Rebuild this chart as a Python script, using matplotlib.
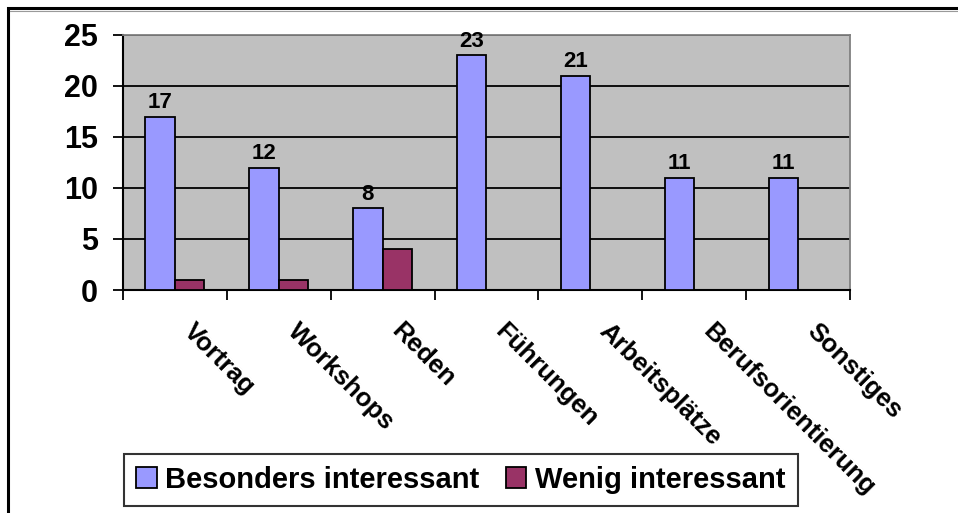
import matplotlib
matplotlib.use("Agg")
import matplotlib.pyplot as plt
from matplotlib.lines import Line2D
from matplotlib.patches import Patch
import numpy as np

# Survey: which parts of the event were interesting
categories = ["Vortrag", "Workshops", "Reden", "Führungen",
              "Arbeitsplätze", "Berufsorientierung", "Sonstiges"]
besonders = [17, 12, 8, 23, 21, 11, 11]
wenig = [1, 1, 4, 0, 0, 0, 0]
series_names = ["Besonders interessant", "Wenig interessant"]
y_ticks = [0, 5, 10, 15, 20, 25]

W, H, DPI = 958, 513, 100
plt.rcParams["font.family"] = ["Liberation Sans", "DejaVu Sans"]
plt.rcParams["font.weight"] = "bold"

fig = plt.figure(figsize=(W / DPI, H / DPI), dpi=DPI)
fig.patch.set_facecolor("white")

# outer chart frame (left and top edges)
fig.add_artist(Line2D([8 / W, 8 / W, 1.01], [-0.05, 1 - 8 / H, 1 - 8 / H],
                      transform=fig.transFigure, color="black", lw=2.2,
                      solid_joinstyle="miter"))
fig.add_artist(Line2D([10 / W, 1.01], [1 - 10.5 / H, 1 - 10.5 / H],
                      transform=fig.transFigure, color="#9a9a9a", lw=0.8))

left, right, top, bottom = 123, 850, 35, 290
ax = fig.add_axes([left / W, 1 - bottom / H, (right - left) / W, (bottom - top) / H])
ax.set_facecolor("#C0C0C0")

x = np.arange(len(categories))
bw = 0.284
blue, maroon = "#9999FF", "#993366"
ax.bar(x - bw / 2, besonders, bw, color=blue, edgecolor="black", lw=1.3, zorder=3)
ax.bar(x + bw / 2, wenig, bw, color=maroon, edgecolor="black", lw=1.3, zorder=3)

for xi, v in zip(x, besonders):
    ax.annotate(str(v), (xi - bw / 2, v), xytext=(0, 2.5), textcoords="offset points",
                ha="center", va="bottom", fontsize=16, fontweight="bold", zorder=4)

ax.set_xlim(-0.5, len(categories) - 0.5)
ax.set_ylim(0, 25)
ax.set_yticks(y_ticks)
ax.set_yticklabels([str(t) for t in y_ticks], fontsize=22, fontweight="bold")
ax.yaxis.grid(True, color="black", lw=1.3, zorder=1)
ax.set_axisbelow(True)

ax.set_xticks(np.arange(len(categories) + 1) - 0.5)
ax.set_xticklabels([])
ax.tick_params(axis="x", direction="out", length=7, width=1.3, color="black")
ax.tick_params(axis="y", direction="out", length=7, width=1.3, color="black", pad=11)

for s in ["top", "right"]:
    ax.spines[s].set_color("#808080")
    ax.spines[s].set_linewidth(1.3)
for s in ["left", "bottom"]:
    ax.spines[s].set_color("black")
    ax.spines[s].set_linewidth(1.5)

# rotated category labels
for xi, name in zip(x, categories):
    ax.annotate(name, (xi, 0), xycoords=("data", "axes fraction"),
                xytext=(21, -29), textcoords="offset pixels",
                rotation=-45, rotation_mode="anchor", ha="left", va="top",
                fontsize=18.5, fontweight="bold", annotation_clip=False)

handles = [Patch(facecolor=blue, edgecolor="black", lw=1.3),
           Patch(facecolor=maroon, edgecolor="black", lw=1.3)]
leg = fig.legend(handles, series_names, loc="lower left",
                 bbox_to_anchor=(124 / W, 1 - 506 / H),
                 ncol=2, frameon=True, fancybox=False,
                 prop={"weight": "bold", "size": 21},
                 handlelength=0.7, handleheight=0.7, handletextpad=0.3,
                 columnspacing=0.9, borderpad=0.42, borderaxespad=0)
leg.get_frame().set_edgecolor("black")
leg.get_frame().set_linewidth(1.5)

fig.savefig("out.png", dpi=DPI, facecolor="white")
